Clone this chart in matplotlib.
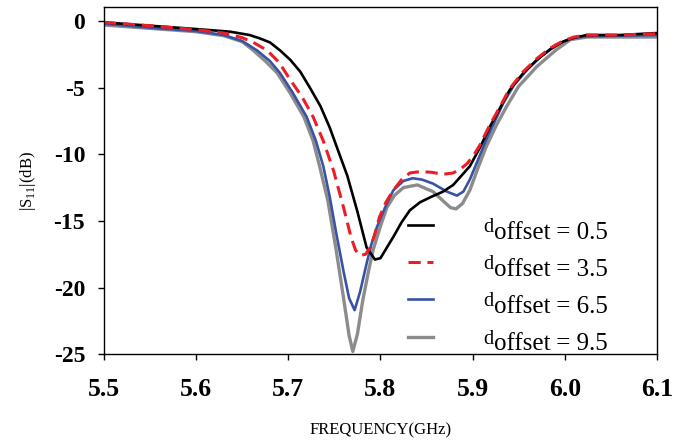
import matplotlib
matplotlib.use("Agg")
import matplotlib.pyplot as plt

plt.rcParams['font.family'] = ['Liberation Serif', 'DejaVu Serif']
plt.rcParams['mathtext.fontset'] = 'custom'
plt.rcParams['mathtext.rm'] = 'Liberation Serif'

# d_offset = 0.5
f_05 = [5.50, 5.55, 5.60, 5.637, 5.658, 5.669, 5.68, 5.691, 5.702, 5.713, 5.723, 5.735, 5.745,
        5.755, 5.764, 5.775, 5.785, 5.794, 5.80, 5.807, 5.814, 5.823, 5.832, 5.843, 5.855,
        5.868, 5.879, 5.888, 5.897, 5.908, 5.919, 5.93, 5.94, 5.955, 5.97, 5.985, 5.998,
        6.01, 6.024, 6.06, 6.10]
s_05 = [-0.1, -0.35, -0.6, -0.8, -1.05, -1.3, -1.6, -2.2, -2.9, -3.8, -4.95, -6.4, -8.0,
        -9.9, -11.6, -14.3, -17.0, -17.9, -17.8, -17.0, -16.2, -15.1, -14.2, -13.6, -13.2,
        -12.8, -12.3, -11.6, -10.9, -9.5, -7.9, -6.5, -5.2, -3.9, -2.9, -2.1, -1.55,
        -1.25, -1.05, -1.05, -0.9]

# d_offset = 3.5
f_35 = [5.50, 5.55, 5.60, 5.63, 5.65, 5.662, 5.677, 5.69, 5.702, 5.715, 5.727, 5.738, 5.749,
        5.76, 5.768, 5.773, 5.778, 5.784, 5.789, 5.794, 5.799, 5.806, 5.814, 5.823, 5.832,
        5.843, 5.855, 5.868, 5.879, 5.887, 5.894, 5.901, 5.908, 5.918, 5.93, 5.94, 5.955,
        5.97, 5.985, 5.998, 6.01, 6.024, 6.06, 6.10]
s_35 = [-0.1, -0.35, -0.65, -0.9, -1.25, -1.6, -2.2, -3.1, -4.4, -5.7, -7.2, -9.0, -11.2,
        -14.0, -16.2, -17.2, -17.6, -17.5, -17.0, -16.0, -14.7, -13.6, -12.7, -11.9, -11.4,
        -11.3, -11.35, -11.5, -11.4, -11.1, -10.7, -10.1, -9.3, -7.9, -6.4, -5.1, -3.8,
        -2.8, -2.0, -1.5, -1.2, -1.05, -1.05, -0.95]

# d_offset = 6.5
f_65 = [5.50, 5.55, 5.60, 5.63, 5.65, 5.666, 5.68, 5.691, 5.705, 5.72, 5.73, 5.738, 5.745,
        5.752, 5.76, 5.766, 5.772, 5.778, 5.785, 5.79, 5.796, 5.805, 5.814, 5.825, 5.835,
        5.845, 5.857, 5.872, 5.883, 5.89, 5.897, 5.906, 5.915, 5.925, 5.933, 5.945, 5.96,
        5.975, 5.99, 6.005, 6.02, 6.06, 6.10]
s_65 = [-0.2, -0.5, -0.75, -1.05, -1.5, -2.2, -3.0, -3.9, -5.4, -7.2, -9.0, -10.9, -13.2,
        -15.9, -18.8, -20.8, -21.7, -20.3, -18.2, -16.8, -15.5, -14.0, -12.7, -12.0, -11.8,
        -11.9, -12.2, -12.8, -13.1, -12.8, -11.9, -10.4, -8.9, -7.4, -6.2, -4.8, -3.6,
        -2.6, -1.8, -1.35, -1.15, -1.1, -1.05]

# d_offset = 9.5
f_95 = [5.50, 5.55, 5.60, 5.63, 5.65, 5.662, 5.675, 5.688, 5.702, 5.717, 5.727, 5.734, 5.743,
        5.752, 5.76, 5.766, 5.770, 5.775, 5.781, 5.787, 5.792, 5.80, 5.807, 5.815, 5.825,
        5.84, 5.857, 5.868, 5.876, 5.882, 5.889, 5.897, 5.906, 5.915, 5.926, 5.937, 5.95,
        5.97, 5.99, 6.006, 6.024, 6.06, 6.10]
s_95 = [-0.3, -0.55, -0.8, -1.1, -1.55, -2.2, -3.0, -3.9, -5.4, -7.2, -9.0, -10.9, -13.5,
        -17.2, -20.8, -23.6, -24.8, -23.5, -20.9, -18.8, -17.2, -15.4, -14.0, -13.1, -12.5,
        -12.3, -12.8, -13.5, -14.0, -14.1, -13.7, -12.7, -11.0, -9.4, -7.8, -6.4, -4.9,
        -3.4, -2.2, -1.4, -1.2, -1.2, -1.2]

labels = ['0.5', '3.5', '6.5', '9.5']
xticks = [5.5, 5.6, 5.7, 5.8, 5.9, 6.0, 6.1]
yticks = [0, -5, -10, -15, -20, -25]

fig = plt.figure(figsize=(6.9, 4.41), dpi=100)
ax = fig.add_axes([0.1507, 0.197, 0.8013, 0.787])

l4, = ax.plot(f_95, s_95, color='#8c8c8c', lw=2.4)
l3, = ax.plot(f_65, s_65, color='#3953a4', lw=1.9)
l1, = ax.plot(f_05, s_05, color='black', lw=1.9)
l2, = ax.plot(f_35, s_35, color='#ee1c24', lw=2.2, linestyle=(0, (4, 2.2)))

# legend: small raised "d", rest of the label attached after it
leg = ax.legend([l1, l2, l3, l4], ['d'] * 4,
                loc='lower left', bbox_to_anchor=(0.55, 0.0156), frameon=False,
                fontsize=14.5, handlelength=1.25, handletextpad=2.5, labelspacing=0.9,
                borderpad=0.0, borderaxespad=0.0)
for t, v in zip(leg.get_texts(), labels):
    # zorder above the legend so they are drawn once the legend texts are placed
    a = ax.annotate('offset', xy=(1, 0), xycoords=t, xytext=(0, -4.8),
                    textcoords='offset points', fontsize=18, ha='left', va='bottom',
                    zorder=6)
    ax.annotate(' = ' + v, xy=(1, 0), xycoords=a, xytext=(0, 0),
                textcoords='offset points', fontsize=18, ha='left', va='bottom',
                zorder=7)

ax.set_xlim(5.5, 6.1)
ax.set_ylim(-25, 1.05)
ax.set_xticks(xticks)
ax.set_xticklabels([f'{t:.1f}' for t in xticks], fontsize=18.5, fontweight='bold')
ax.set_yticks(yticks)
ax.set_yticklabels([str(t) for t in yticks], fontsize=17, fontweight='bold')
ax.tick_params(direction='out', length=4, width=1)
ax.tick_params(axis='x', pad=13.5)
ax.tick_params(axis='y', pad=9.5)

ax.set_xlabel('FREQUENCY(GHz)', fontsize=12, labelpad=15)
ax.set_ylabel(r'|S$_{11}$|(dB)', fontsize=12, labelpad=11)

for sp in ax.spines.values():
    sp.set_linewidth(1)

fig.savefig('out.png', dpi=100)
